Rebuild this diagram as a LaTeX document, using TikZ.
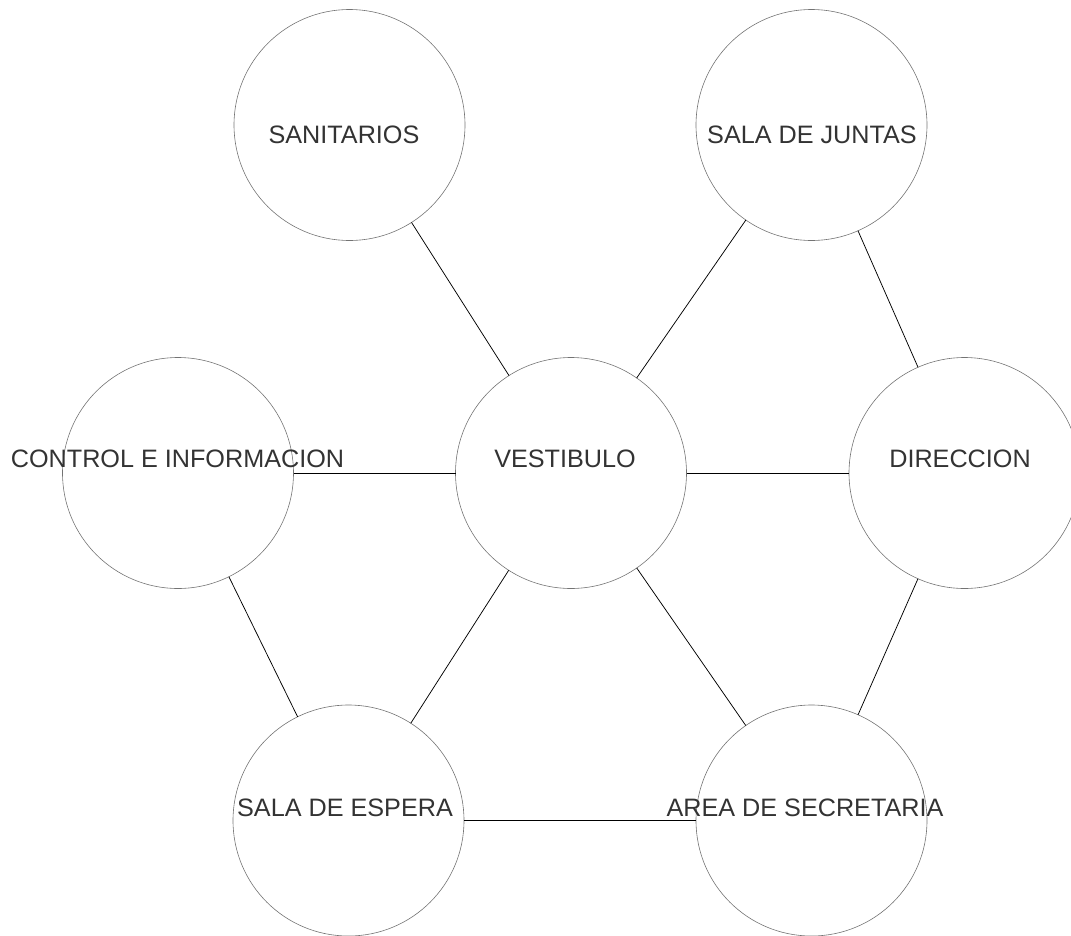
\documentclass[tikz,border=0pt]{standalone}
\usepackage{fontspec}
\setmainfont{Liberation Sans}
\begin{document}
\begin{tikzpicture}[x=1pt,y=-1pt,
  room/.style={circle,draw=black!55,line width=0.6pt,minimum size=231pt,inner sep=0pt,outer sep=0pt},
  lbl/.style={anchor=base,inner sep=0pt,text=black!80,font=\fontsize{25.2}{25.2}\selectfont},
  link/.style={draw=black,line width=0.75pt}]
\useasboundingbox (0,0) rectangle (1071,935);
% rooms
\node[room] (san) at (349.5,125) {};
\node[room] (jun) at (811.5,125) {};
\node[room] (con) at (178,473) {};
\node[room] (ves) at (571,473) {};
\node[room] (dir) at (964.5,473) {};
\node[room] (esp) at (348.5,820.5) {};
\node[room] (sec) at (811.5,820.5) {};
% labels
\node[lbl] (tsan) at (344,143) {SANITARIOS};
\node[lbl] (tjun) at (812,143) {SALA DE JUNTAS};
\node[lbl] (tcon) at (177.5,467) {CONTROL E INFORMACION};
\node[lbl] (tves) at (565,467) {VESTIBULO};
\node[lbl] (tdir) at (960,467) {DIRECCION};
\node[lbl] (tesp) at (345,816) {SALA DE ESPERA};
\node[lbl] (tsec) at (805,816) {AREA DE SECRETARIA};
% connectors
\draw[link] (san) -- (ves);
\draw[link] (jun) -- (ves);
\draw[link] (jun) -- (dir);
\draw[link] (con) -- (ves);
\draw[link] (ves) -- (dir);
\draw[link] (con) -- (esp);
\draw[link] (ves) -- (esp);
\draw[link] (ves) -- (sec);
\draw[link] (dir) -- (sec);
\draw[link] (esp) -- (sec);
\end{tikzpicture}
\end{document}
